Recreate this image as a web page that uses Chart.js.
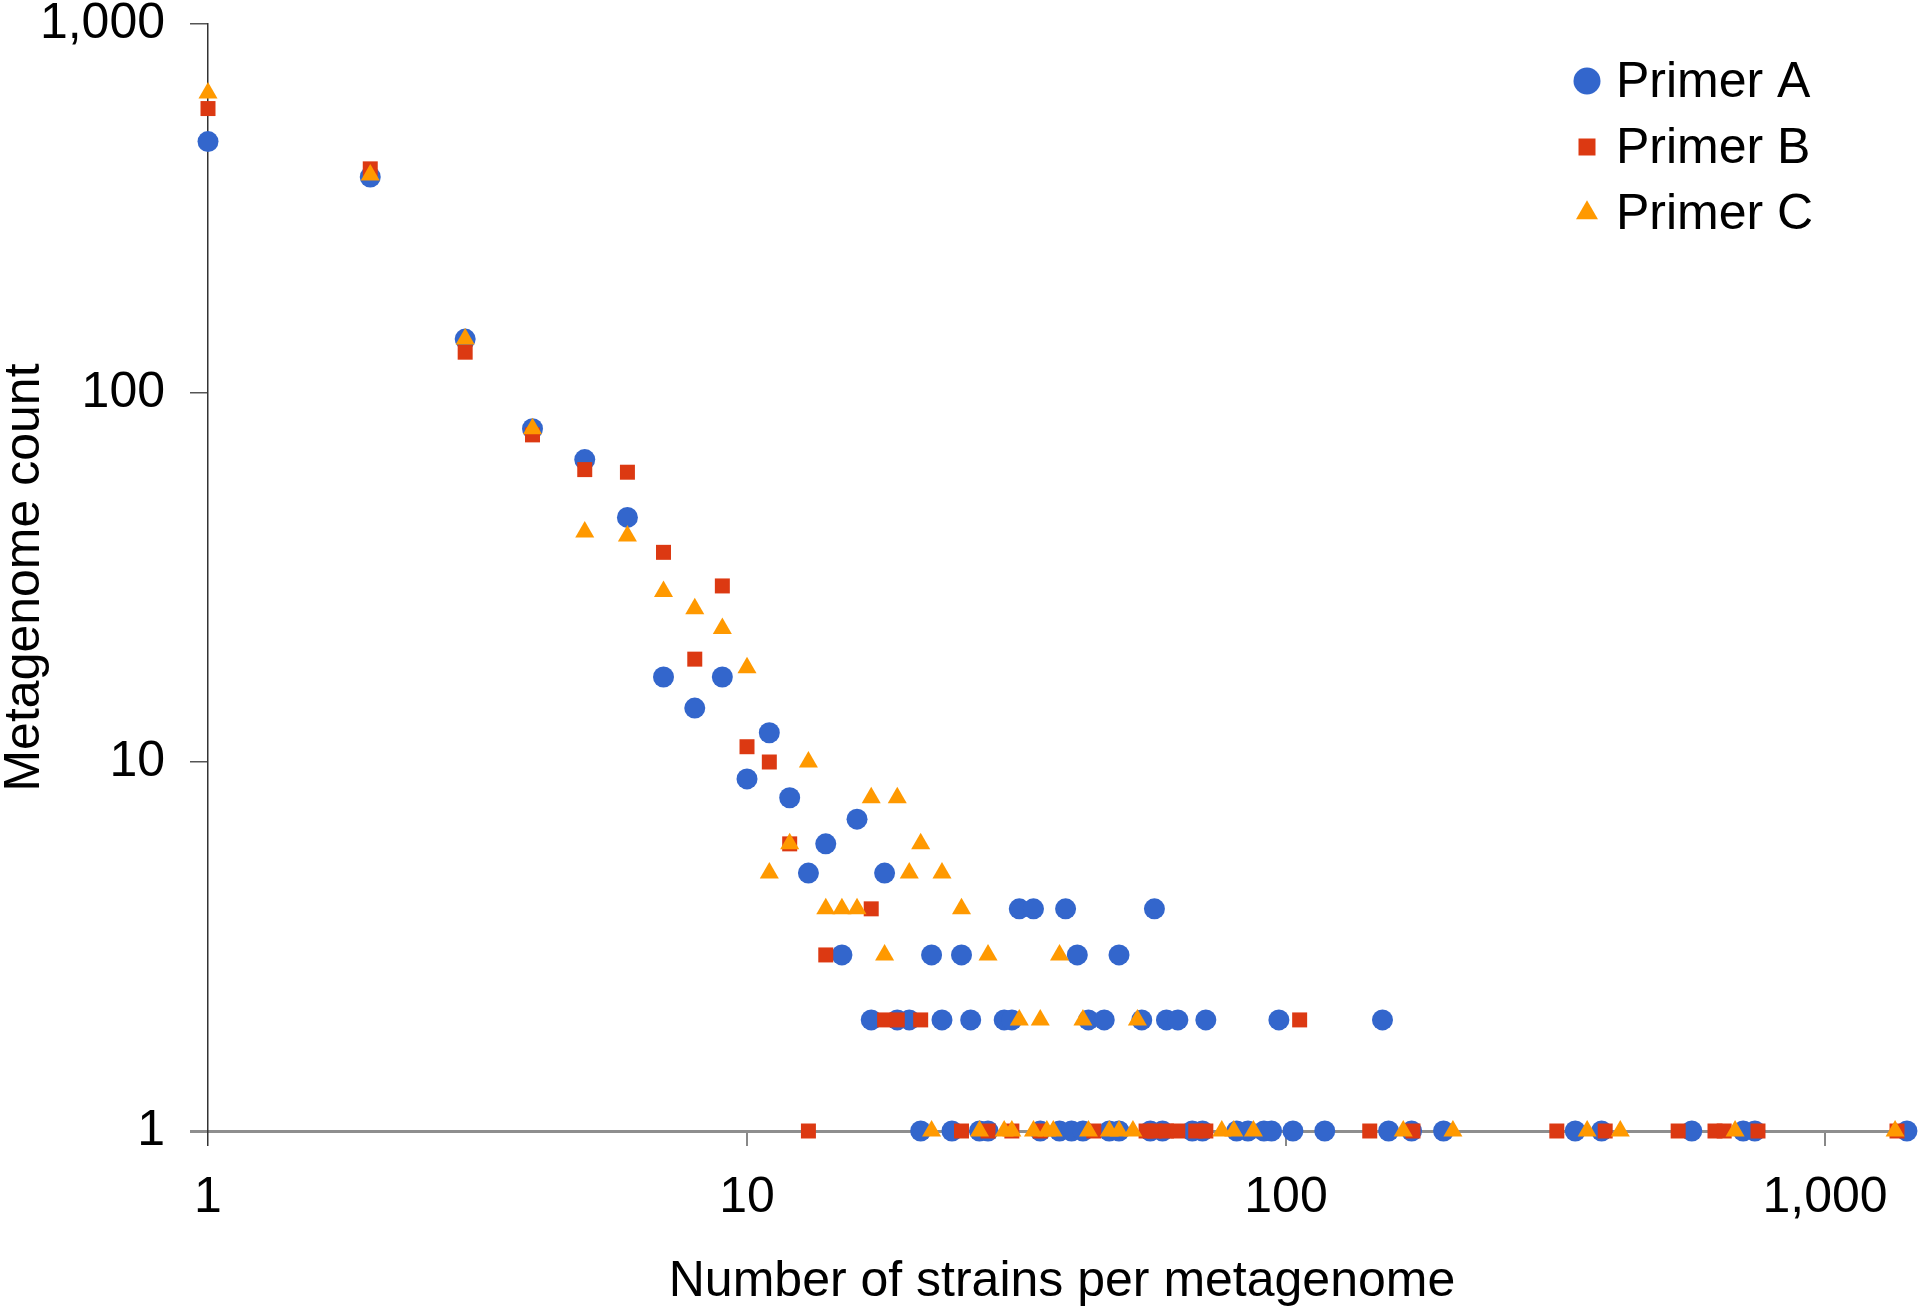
<!DOCTYPE html>
<html>
<head>
<meta charset="utf-8">
<script src="https://cdn.jsdelivr.net/npm/chart.js"></script>
<style>
  html, body { margin: 0; padding: 0; background: #fff; }
  #wrap { width: 1920px; height: 1312px; position: relative; }
</style>
</head>
<body>
<div id="wrap"><canvas id="grafico"></canvas></div>
<script>
// Series names
const seriesNames = ['Primer A', 'Primer B', 'Primer C'];

// Primer A: strains per metagenome (x) and metagenome count (y)
const aStrains = [1, 2, 3, 4, 5, 6, 7, 8, 9, 10, 11, 12, 13, 14, 15, 16, 17, 18, 19, 20,
  22, 23, 25, 26, 30, 31, 32, 34, 39, 41, 43, 46, 49, 54, 57, 60, 63, 71, 97, 151,
  21, 24, 27, 28, 35, 38, 40, 42, 47, 49, 56, 59, 67, 70, 81, 85, 91, 94, 103, 118,
  155, 171, 196, 344, 385, 566, 705, 741, 1419];
const aCounts = [480, 385, 140, 80, 66, 46, 17, 14, 17, 9, 12, 8, 5, 6, 3, 7, 2, 5, 2, 2,
  3, 2, 3, 2, 2, 2, 4, 4, 4, 3, 2, 2, 3, 2, 4, 2, 2, 2, 2, 2,
  1, 1, 1, 1, 1, 1, 1, 1, 1, 1, 1, 1, 1, 1, 1, 1, 1, 1, 1, 1,
  1, 1, 1, 1, 1, 1, 1, 1, 1];

// Primer B
const bStrains = [1, 2, 3, 4, 5, 6, 7, 8, 9, 10, 11, 12, 14, 17, 18, 19, 21, 106,
  13, 25, 28, 31, 35, 44, 55, 57, 60, 63, 68, 71, 143, 172, 318, 391, 534, 625, 650, 751, 1360];
const bCounts = [590, 405, 129, 77, 62, 61, 37, 19, 30, 11, 10, 6, 3, 4, 2, 2, 2, 2,
  1, 1, 1, 1, 1, 1, 1, 1, 1, 1, 1, 1, 1, 1, 1, 1, 1, 1, 1, 1, 1];

// Primer C
const cStrains = [1, 2, 3, 4, 5, 6, 7, 8, 9, 10, 11, 12, 13, 14, 15, 16, 17, 18, 19, 20,
  21, 23, 25, 28, 32, 35, 38, 42, 53,
  22, 27, 30, 31, 34, 36, 37, 43, 47, 49, 52, 76, 80, 87, 165, 204, 362, 417, 681, 1349];
const cCounts = [650, 390, 140, 80, 42, 41, 29, 26, 23, 18, 5, 6, 10, 4, 4, 4, 8, 3, 8, 5,
  6, 5, 4, 3, 2, 2, 3, 2, 2,
  1, 1, 1, 1, 1, 1, 1, 1, 1, 1, 1, 1, 1, 1, 1, 1, 1, 1, 1, 1];

// Tick values for both log axes
const axisTicks = [1, 10, 100, 1000];

const cores = ['#3366cc', '#dc3912', '#ff9900'];
const formas = ['circle', 'rect', 'triangle'];
const raios = [10.5, 10.6, 11];
const fonte = '"Liberation Sans", Arial, Helvetica, sans-serif';

function pares(xs, ys) {
  return xs.map((x, i) => ({ x: x, y: ys[i] }));
}

const series = [pares(aStrains, aCounts), pares(bStrains, bCounts), pares(cStrains, cCounts)];

// Legend drawn inside the plot, top right
const legendaCanto = {
  id: 'legendaCanto',
  afterDatasetsDraw(chart) {
    const ctx = chart.ctx;
    const mx = 1587, tx = 1616, y0 = 81, passo = 66;
    ctx.save();
    ctx.font = '50px ' + fonte;
    ctx.textBaseline = 'middle';
    ctx.textAlign = 'left';
    seriesNames.forEach((nome, i) => {
      const y = y0 + i * passo;
      ctx.fillStyle = cores[i];
      ctx.beginPath();
      if (formas[i] === 'circle') {
        ctx.arc(mx, y, 13.5, 0, Math.PI * 2);
      } else if (formas[i] === 'rect') {
        ctx.rect(mx - 8.5, y - 8.5, 17, 17);
      } else {
        const r = 12.7;
        ctx.moveTo(mx, y - r);
        ctx.lineTo(mx + r * Math.sqrt(3) / 2, y + r / 2);
        ctx.lineTo(mx - r * Math.sqrt(3) / 2, y + r / 2);
        ctx.closePath();
      }
      ctx.fill();
      ctx.fillStyle = '#000';
      ctx.fillText(nome, tx, y + 2);
    });
    ctx.restore();
  }
};

const fmt = v => Number(v).toLocaleString('en-US');

new Chart(document.getElementById('grafico'), {
  type: 'scatter',
  data: {
    datasets: series.map((dados, i) => ({
      label: seriesNames[i],
      data: dados,
      pointStyle: formas[i],
      pointRadius: raios[i],
      pointHoverRadius: raios[i],
      pointBorderWidth: 0,
      backgroundColor: cores[i],
      borderColor: cores[i],
      order: 3 - i,
      clip: false
    }))
  },
  options: {
    responsive: true,
    maintainAspectRatio: false,
    animation: false,
    layout: { autoPadding: false, padding: { top: 0, right: 4, left: 0, bottom: 0 } },
    plugins: {
      legend: { display: false },
      tooltip: { enabled: false }
    },
    scales: {
      x: {
        type: 'logarithmic',
        min: 1,
        max: 1475,
        afterBuildTicks: s => { s.ticks = axisTicks.map(v => ({ value: v })); },
        afterFit: s => { s.height = 181; },
        border: { display: true, color: '#8e8e8e', width: 3 },
        grid: {
          display: true,
          drawOnChartArea: false,
          drawTicks: true,
          tickLength: 15,
          color: c => (c.tick && c.tick.value === 1 ? '#333' : '#888'),
          lineWidth: c => (c.tick && c.tick.value === 1 ? 1.5 : 2)
        },
        ticks: {
          color: '#000',
          padding: 27,
          maxRotation: 0,
          autoSkip: false,
          font: { family: fonte, size: 50, lineHeight: 1 },
          callback: v => fmt(v)
        },
        title: {
          display: true,
          text: 'Number of strains per metagenome',
          color: '#000',
          padding: { top: 0, bottom: 5 },
          font: { family: fonte, size: 50, lineHeight: 1 }
        }
      },
      y: {
        type: 'logarithmic',
        min: 1,
        max: 1000,
        afterBuildTicks: s => { s.ticks = axisTicks.map(v => ({ value: v })); },
        afterFit: s => {
          s.width = 208;
          s.paddingTop = 24;
          s.paddingBottom = 0;
        },
        border: { display: true, color: '#333', width: 1.5 },
        grid: {
          display: true,
          drawOnChartArea: false,
          drawTicks: true,
          tickLength: 18,
          color: c => (c.tick && c.tick.value === 1 ? '#8e8e8e' : '#555'),
          lineWidth: c => (c.tick && c.tick.value === 1 ? 3 : 1.5)
        },
        ticks: {
          color: '#000',
          padding: 25,
          autoSkip: false,
          font: { family: fonte, size: 50, lineHeight: 1 },
          callback: v => fmt(v)
        },
        title: {
          display: true,
          text: 'Metagenome count',
          color: '#000',
          padding: { top: 0, bottom: 0 },
          font: { family: fonte, size: 50, lineHeight: 1 }
        }
      }
    }
  },
  plugins: [legendaCanto]
});
</script>
</body>
</html>
